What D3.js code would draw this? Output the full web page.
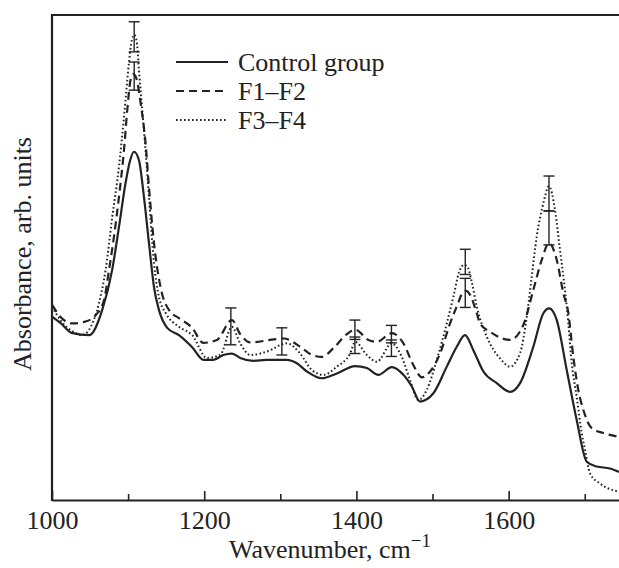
<!DOCTYPE html>
<html>
<head>
<meta charset="utf-8">
<script src="https://cdn.jsdelivr.net/npm/d3@7"></script>
<style>
  html, body { margin: 0; padding: 0; background: #fff; }
  svg { display: block; }
</style>
</head>
<body>
<svg id="chart" width="619" height="568"></svg>
<script>
// ---- data (absorbance, arb. units) ----
const seriesNames = ["Control group", "F1\u2013F2", "F3\u2013F4"];

const controlW = [1000,1011,1027,1049,1066,1079,1088,1096.7,1102.8,1107.7,1114.2,1120.8,1127.4,1134,1140.5,1151.4,1166.8,1184.2,1199.1,1212.2,1225,1236.4,1247.3,1264.3,1282.3,1308.6,1321.7,1334.9,1354.6,1374.3,1398.3,1413.7,1428.9,1446.5,1461.7,1472.8,1483.6,1501.1,1518.7,1531.8,1542.7,1553.6,1566.8,1584.4,1601.8,1615,1632.4,1645.6,1653.4,1663.2,1676.3,1689.4,1702.6,1715.7,1733.2,1745];
const controlA = [0.378,0.365,0.344,0.340,0.392,0.474,0.563,0.654,0.701,0.718,0.701,0.625,0.530,0.439,0.392,0.355,0.340,0.315,0.289,0.289,0.299,0.302,0.293,0.287,0.289,0.289,0.282,0.265,0.251,0.261,0.276,0.272,0.258,0.274,0.258,0.234,0.203,0.220,0.275,0.316,0.340,0.309,0.265,0.241,0.223,0.241,0.316,0.385,0.395,0.371,0.268,0.165,0.079,0.069,0.065,0.058];

const f12W = [1000.4,1010.9,1026.7,1044.1,1057.3,1068.3,1074.9,1081.4,1088,1094.6,1098.9,1103.2,1106.8,1110.7,1116.4,1122.9,1127.4,1134,1142.6,1153.6,1166.8,1184.2,1198.7,1216.7,1236.4,1247.3,1260.4,1286.7,1304.1,1326.1,1339.2,1354.6,1369.8,1387.4,1398.3,1415.8,1426.8,1446.5,1461.7,1474.9,1485.9,1496.8,1509.9,1523,1531.8,1540.5,1544,1549.3,1558.1,1562.4,1575.6,1601.8,1619.3,1632.4,1643.5,1653,1663.2,1671.8,1678.4,1685,1691.5,1698.1,1709.1,1724.4,1745];
const f12A = [0.402,0.378,0.364,0.368,0.381,0.412,0.474,0.543,0.625,0.722,0.804,0.866,0.878,0.870,0.819,0.736,0.645,0.530,0.439,0.392,0.375,0.355,0.324,0.330,0.371,0.342,0.325,0.330,0.333,0.316,0.301,0.295,0.313,0.342,0.351,0.330,0.326,0.344,0.323,0.278,0.253,0.265,0.302,0.364,0.399,0.429,0.431,0.423,0.385,0.364,0.347,0.330,0.361,0.433,0.495,0.530,0.495,0.427,0.386,0.295,0.227,0.186,0.148,0.138,0.130];

const f34W = [1000.4,1010.9,1024,1039.8,1048.6,1061.7,1070.4,1079.2,1088,1094.6,1101.1,1104.8,1108.1,1111.4,1114.2,1118.6,1122.9,1127.4,1134,1140.5,1149.2,1166.8,1184.2,1203.5,1221,1236.4,1247.3,1260.4,1282.3,1308.6,1326.1,1341.4,1356.7,1374.3,1391.7,1398.3,1413.7,1426.8,1446.5,1459.6,1470.5,1481.4,1492.4,1505.6,1518.7,1527.4,1534.9,1541.4,1546.7,1551.9,1558.1,1571.2,1588.7,1601.8,1615,1623.8,1630.3,1636.9,1645.6,1653,1660.9,1667.5,1674,1678.4,1682.9,1689.4,1696,1700.4,1706.9,1720.1,1745];
const f34A = [0.399,0.371,0.351,0.340,0.351,0.406,0.474,0.584,0.687,0.790,0.901,0.948,0.959,0.944,0.887,0.804,0.722,0.625,0.489,0.419,0.386,0.357,0.340,0.293,0.299,0.357,0.323,0.299,0.306,0.323,0.302,0.268,0.258,0.275,0.302,0.326,0.299,0.285,0.323,0.295,0.247,0.206,0.227,0.289,0.364,0.419,0.470,0.485,0.478,0.447,0.399,0.337,0.292,0.275,0.303,0.378,0.460,0.543,0.612,0.647,0.598,0.515,0.433,0.365,0.282,0.213,0.138,0.103,0.055,0.034,0.017];

// error bars: wavenumber, centre, half-length
const errW    = [1108, 1108, 1235, 1302, 1398, 1398, 1446, 1446, 1543, 1543, 1653, 1653];
const errMid  = [0.955, 0.874, 0.358, 0.327, 0.351, 0.319, 0.342, 0.313, 0.491, 0.427, 0.632, 0.561];
const errHalf = [0.031, 0.029, 0.038, 0.028, 0.020, 0.017, 0.018, 0.017, 0.026, 0.030, 0.036, 0.035];

const majorTicks = [1000, 1200, 1400, 1600];
const minorTicks = [1100, 1300, 1500, 1700];

// ---- layout ----
const FONT = "'Liberation Serif', 'Times New Roman', 'DejaVu Serif', serif";
const svg = d3.select("#chart");
const L = 52, R = 619, T = 15, B = 500;
const x = d3.scaleLinear().domain([1000, 1745]).range([L, R]);
const y = d3.scaleLinear().domain([0, 1]).range([B, T]);
const ink = "#222";

svg.append("defs").append("clipPath").attr("id", "plot")
  .append("rect").attr("x", L).attr("y", T).attr("width", R - L).attr("height", B - T);

const g = svg.append("g").attr("clip-path", "url(#plot)");

const line = d3.line().x(d => x(d[0])).y(d => y(d[1])).curve(d3.curveMonotoneX);
const styles = [
  { dash: null, w: 2.2 },
  { dash: "8,5", w: 2.2 },
  { dash: "1.6,2.4", w: 2.0 }
];
const series = [
  d3.zip(controlW, controlA),
  d3.zip(f12W, f12A),
  d3.zip(f34W, f34A)
];
series.forEach((s, i) => {
  g.append("path").attr("d", line(s))
    .attr("fill", "none").attr("stroke", ink)
    .attr("stroke-width", styles[i].w)
    .attr("stroke-dasharray", styles[i].dash)
    .attr("stroke-linejoin", "round");
});

// error bars
const cap = 5.5;
errW.forEach((w, i) => {
  const xx = x(w), y1 = y(errMid[i] + errHalf[i]), y2 = y(errMid[i] - errHalf[i]);
  const eb = g.append("g").attr("stroke", ink).attr("stroke-width", 1.4);
  eb.append("line").attr("x1", xx).attr("x2", xx).attr("y1", y1).attr("y2", y2);
  eb.append("line").attr("x1", xx - cap).attr("x2", xx + cap).attr("y1", y1).attr("y2", y1);
  eb.append("line").attr("x1", xx - cap).attr("x2", xx + cap).attr("y1", y2).attr("y2", y2);
});

// axes frame
svg.append("line").attr("x1", L).attr("x2", L).attr("y1", T - 1).attr("y2", B + 1)
  .attr("stroke", ink).attr("stroke-width", 2.2);
svg.append("line").attr("x1", L - 1).attr("x2", R).attr("y1", T).attr("y2", T)
  .attr("stroke", ink).attr("stroke-width", 2.2);

const xAxis = d3.axisBottom(x).tickValues(majorTicks).tickSizeInner(-9).tickSizeOuter(0)
  .tickPadding(11).tickFormat(d3.format("d"));
const ax = svg.append("g").attr("transform", `translate(0,${B})`).call(xAxis)
  .attr("font-family", null).attr("font-size", null);
ax.select(".domain").attr("stroke", ink).attr("stroke-width", 2.2);
ax.selectAll(".tick line").attr("stroke", ink).attr("stroke-width", 1.6);
ax.selectAll(".tick text").style("font-family", FONT).style("font-size", "26px")
  .attr("fill", ink).attr("dy", "0.71em");
const axMinor = d3.axisBottom(x).tickValues(minorTicks).tickSizeInner(-6).tickSizeOuter(0).tickFormat("");
const am = svg.append("g").attr("transform", `translate(0,${B})`).call(axMinor);
am.select(".domain").remove();
am.selectAll(".tick line").attr("stroke", ink).attr("stroke-width", 1.6);

// axis titles
const xt = svg.append("text").attr("x", 330).attr("y", 558).attr("text-anchor", "middle")
  .style("font-family", FONT).style("font-size", "26px").attr("fill", ink);
xt.append("tspan").text("Wavenumber, cm");
xt.append("tspan").text("\u22121").style("font-size", "19px").attr("dy", -11);

svg.append("text").attr("transform", "translate(31,254) rotate(-90)")
  .attr("text-anchor", "middle").style("font-family", FONT).style("font-size", "26px")
  .attr("fill", ink).text("Absorbance, arb. units");

// legend
const legY = [62, 91, 120];
seriesNames.forEach((name, i) => {
  svg.append("line").attr("x1", 176).attr("x2", 228).attr("y1", legY[i]).attr("y2", legY[i])
    .attr("stroke", ink).attr("stroke-width", styles[i].w)
    .attr("stroke-dasharray", styles[i].dash);
  svg.append("text").attr("x", 238).attr("y", legY[i] + 8.5)
    .style("font-family", FONT).style("font-size", "26px").attr("fill", ink).text(name);
});
</script>
</body>
</html>
